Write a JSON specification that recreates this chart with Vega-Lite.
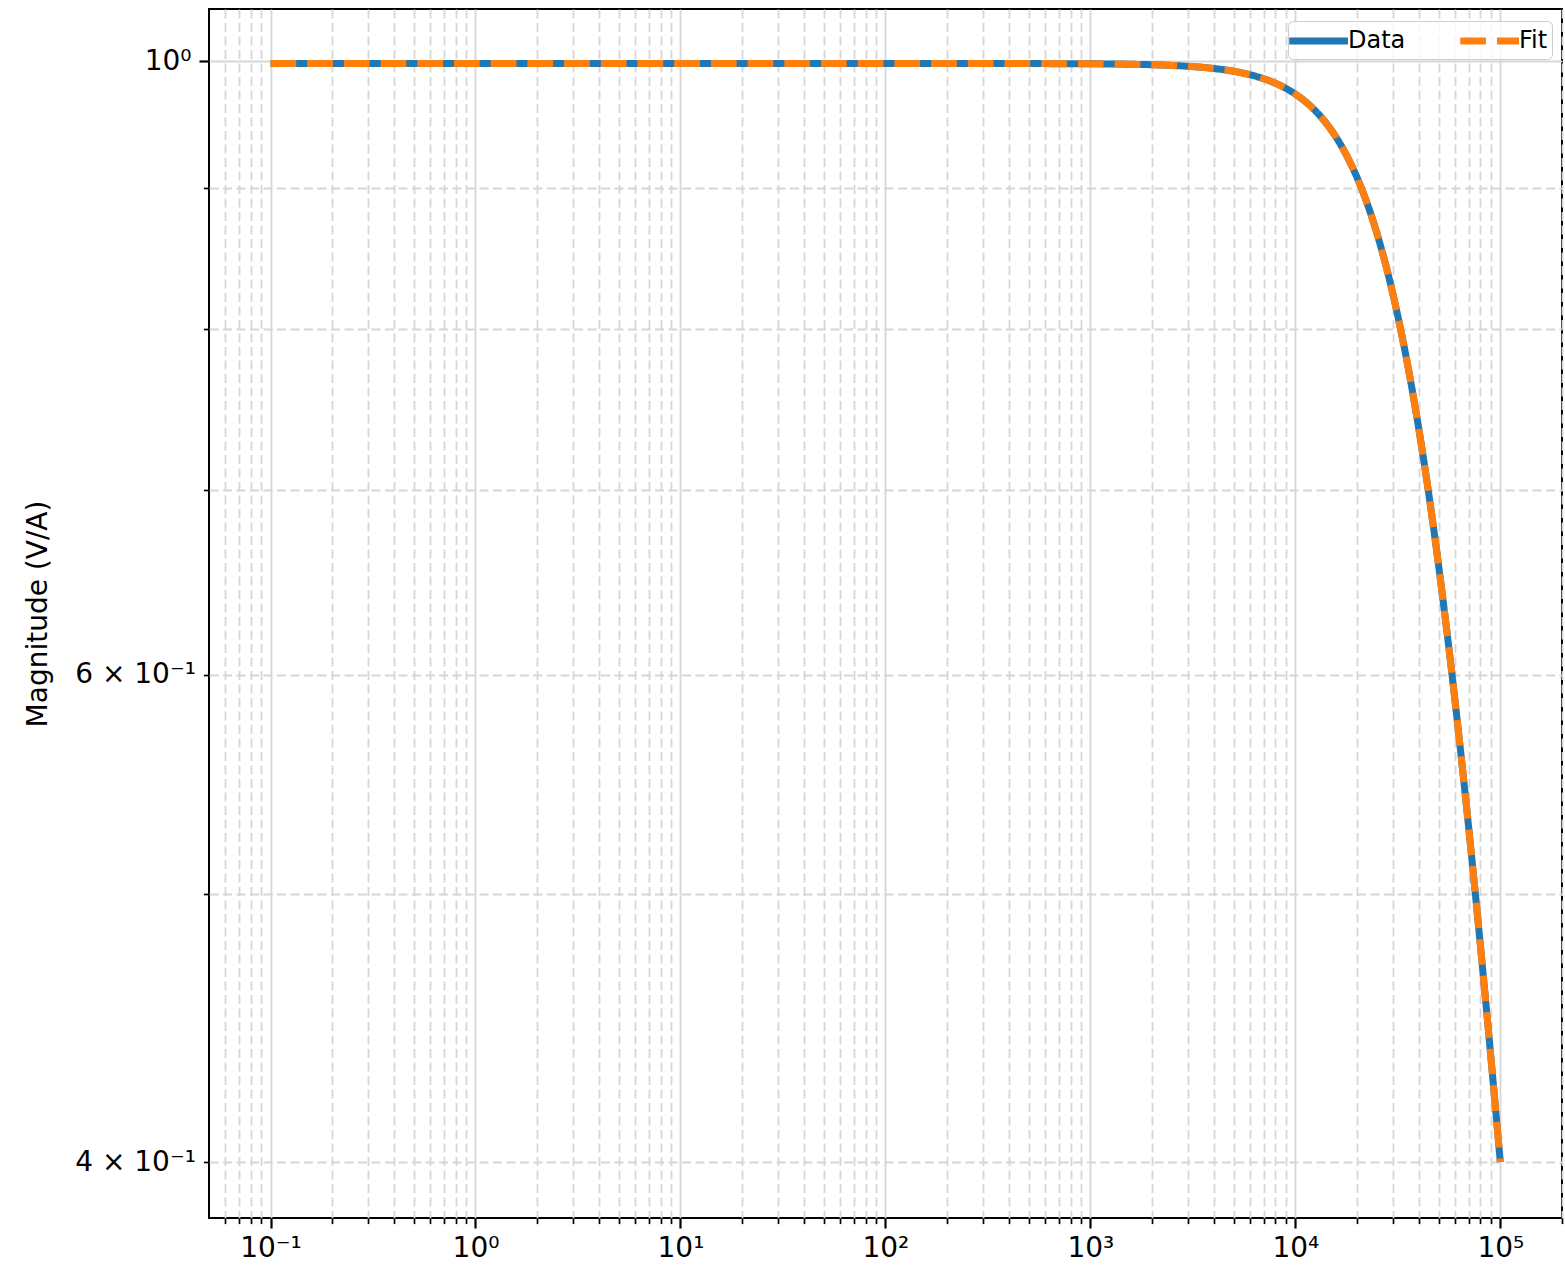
{
  "$schema": "https://vega.github.io/schema/vega-lite/v6.json",
  "width": 1353,
  "height": 1209,
  "autosize": {"type": "none"},
  "padding": {"left": 209, "top": 9, "right": 3, "bottom": 48},
  "background": "white",
  "config": {
    "font": "DejaVu Sans",
    "view": {"stroke": "#000000", "strokeWidth": 2},
    "legend": {
      "orient": "none",
      "legendX": 1079,
      "legendY": 12,
      "direction": "horizontal",
      "symbolType": "M-1.5,0H3.2",
      "symbolSize": 625,
      "symbolStrokeWidth": 7,
      "labelFontSize": 24,
      "labelFont": "DejaVu Sans",
      "labelColor": "#000000",
      "labelOffset": 24,
      "columnPadding": 40,
      "padding": 4,
      "strokeColor": "#cccccc",
      "fillColor": "rgba(255,255,255,0.8)",
      "cornerRadius": 5
    }
  },
  "data": {
    "values": [
      {"f": 0.1, "Data": 0.998, "Fit": 0.998},
      {"f": 0.3, "Data": 0.998, "Fit": 0.998},
      {"f": 1, "Data": 0.998, "Fit": 0.998},
      {"f": 3, "Data": 0.998, "Fit": 0.998},
      {"f": 10, "Data": 0.998, "Fit": 0.998},
      {"f": 30, "Data": 0.998, "Fit": 0.998},
      {"f": 100, "Data": 0.998, "Fit": 0.998},
      {"f": 300, "Data": 0.99798, "Fit": 0.99798},
      {"f": 1000, "Data": 0.99774, "Fit": 0.99774},
      {"f": 1584.89, "Data": 0.99735, "Fit": 0.99735},
      {"f": 2511.89, "Data": 0.99636, "Fit": 0.99636},
      {"f": 3162.28, "Data": 0.99541, "Fit": 0.99541},
      {"f": 3981.07, "Data": 0.9939, "Fit": 0.9939},
      {"f": 5011.87, "Data": 0.99152, "Fit": 0.99152},
      {"f": 6309.57, "Data": 0.98778, "Fit": 0.98778},
      {"f": 7079.46, "Data": 0.98519, "Fit": 0.98519},
      {"f": 7943.28, "Data": 0.98195, "Fit": 0.98195},
      {"f": 8912.51, "Data": 0.97793, "Fit": 0.97793},
      {"f": 10000, "Data": 0.97291, "Fit": 0.97291},
      {"f": 11220.2, "Data": 0.96672, "Fit": 0.96672},
      {"f": 12589.3, "Data": 0.95909, "Fit": 0.95909},
      {"f": 14125.4, "Data": 0.94972, "Fit": 0.94972},
      {"f": 15848.9, "Data": 0.93833, "Fit": 0.93833},
      {"f": 17782.8, "Data": 0.92454, "Fit": 0.92454},
      {"f": 19952.6, "Data": 0.90803, "Fit": 0.90803},
      {"f": 22387.2, "Data": 0.88844, "Fit": 0.88844},
      {"f": 25118.9, "Data": 0.86549, "Fit": 0.86549},
      {"f": 28183.8, "Data": 0.83898, "Fit": 0.83898},
      {"f": 31622.8, "Data": 0.80883, "Fit": 0.80883},
      {"f": 35481.3, "Data": 0.77513, "Fit": 0.77513},
      {"f": 39810.7, "Data": 0.73814, "Fit": 0.73814},
      {"f": 44668.4, "Data": 0.69833, "Fit": 0.69833},
      {"f": 50118.7, "Data": 0.65631, "Fit": 0.65631},
      {"f": 56234.1, "Data": 0.61282, "Fit": 0.61282},
      {"f": 63095.7, "Data": 0.56868, "Fit": 0.56868},
      {"f": 70794.6, "Data": 0.52466, "Fit": 0.52466},
      {"f": 79432.8, "Data": 0.48148, "Fit": 0.48148},
      {"f": 89125.1, "Data": 0.43978, "Fit": 0.43978},
      {"f": 100000, "Data": 0.40002, "Fit": 0.40002}
    ]
  },
  "transform": [{"fold": ["Data", "Fit"], "as": ["series", "mag"]}],
  "mark": {"type": "line", "strokeWidth": 7, "strokeCap": "butt", "interpolate": "monotone"},
  "encoding": {
    "x": {
      "field": "f",
      "type": "quantitative",
      "scale": {"type": "log", "domain": [0.0501, 200000], "nice": false},
      "axis": {
        "title": null,
        "domain": false,
        "values": [0.06, 0.07, 0.08, 0.09, 0.1, 0.2, 0.3, 0.4, 0.5, 0.6, 0.7, 0.8, 0.9, 1, 2, 3, 4, 5, 6, 7, 8, 9, 10, 20, 30, 40, 50, 60, 70, 80, 90, 100, 200, 300, 400, 500, 600, 700, 800, 900, 1000, 2000, 3000, 4000, 5000, 6000, 7000, 8000, 9000, 10000, 20000, 30000, 40000, 50000, 60000, 70000, 80000, 90000, 100000, 200000],
        "labelExpr": "indexof([0.1,1,10,100,1000,10000,100000], datum.value) >= 0 ? ['10⁻¹','10⁰','10¹','10²','10³','10⁴','10⁵'][indexof([0.1,1,10,100,1000,10000,100000], datum.value)] : ''",
        "labelOverlap": false,
        "labelFlush": false,
        "labelFontSize": 28,
        "labelColor": "#000000",
        "labelPadding": 6,
        "tickColor": "#000000",
        "tickSize": {"condition": {"test": "indexof([0.1,1,10,100,1000,10000,100000], datum.value) >= 0", "value": 10}, "value": 5.6},
        "tickWidth": {"condition": {"test": "indexof([0.1,1,10,100,1000,10000,100000], datum.value) >= 0", "value": 2.2}, "value": 1.7},
        "grid": true,
        "gridColor": "#d6d6d6",
        "gridWidth": 1.8,
        "gridDash": {"condition": {"test": "indexof([0.1,1,10,100,1000,10000,100000], datum.value) >= 0", "value": []}, "value": [9, 4.5]}
      }
    },
    "y": {
      "field": "mag",
      "type": "quantitative",
      "scale": {"type": "log", "domain": [0.3818, 1.0443], "nice": false},
      "axis": {
        "title": "Magnitude (V/A)",
        "titleFontSize": 28,
        "titleFontWeight": "normal",
        "titleColor": "#000000",
        "titlePadding": 22,
        "domain": false,
        "values": [0.4, 0.5, 0.6, 0.7, 0.8, 0.9, 1],
        "labelExpr": "datum.value === 1 ? '10⁰' : datum.value === 0.6 ? '6 × 10⁻¹' : datum.value === 0.4 ? '4 × 10⁻¹' : ''",
        "labelOverlap": false,
        "labelFlush": false,
        "labelFontSize": 28,
        "labelColor": "#000000",
        "labelPadding": 8,
        "tickColor": "#000000",
        "tickSize": {"condition": {"test": "datum.value === 1", "value": 10}, "value": 5.6},
        "tickWidth": {"condition": {"test": "datum.value === 1", "value": 2.2}, "value": 1.7},
        "grid": true,
        "gridColor": "#d6d6d6",
        "gridWidth": 1.8,
        "gridDash": {"condition": {"test": "datum.value === 1", "value": []}, "value": [9, 4.5]}
      }
    },
    "color": {
      "field": "series",
      "type": "nominal",
      "scale": {"domain": ["Data", "Fit"], "range": ["#1f77b4", "#ff7f0e"]},
      "legend": {"title": null}
    },
    "strokeDash": {
      "field": "series",
      "type": "nominal",
      "scale": {"domain": ["Data", "Fit"], "range": [[1, 0], [25.7, 11]]},
      "legend": {"title": null}
    }
  }
}
